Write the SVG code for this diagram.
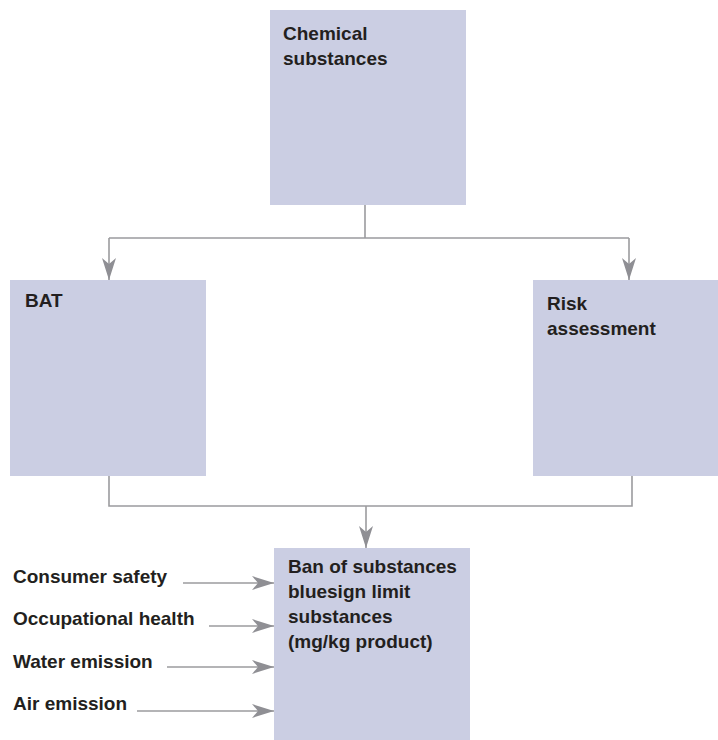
<svg xmlns="http://www.w3.org/2000/svg" width="718" height="740" viewBox="0 0 718 740">
<style>
.box{fill:#cbcee3;}
.t{font-family:"Liberation Sans",Arial,sans-serif;font-weight:700;font-size:19px;fill:#231f20;}
.c{fill:none;stroke:#9b9b9e;stroke-width:1.6;}
</style>
<defs>
<marker id="ah" markerUnits="userSpaceOnUse" markerWidth="24" markerHeight="14" refX="22" refY="7" orient="auto" viewBox="0 0 24 14">
<path d="M0,0 L22,7 L0,14 L6,7 Z" fill="#8f8f94"/>
</marker>
</defs>
<rect width="718" height="740" fill="#ffffff"/>
<g id="chemical">
<rect class="box" x="270" y="10" width="196" height="195"/>
<text class="t" x="283" y="40">Chemical</text>
<text class="t" x="283" y="65">substances</text>
</g>
<g id="bat">
<rect class="box" x="10" y="280" width="196" height="196"/>
<text class="t" x="25" y="307">BAT</text>
</g>
<g id="risk">
<rect class="box" x="533" y="280" width="185" height="196"/>
<text class="t" x="547" y="310">Risk</text>
<text class="t" x="547" y="335">assessment</text>
</g>
<g id="ban">
<rect class="box" x="274" y="548" width="196" height="192"/>
<text class="t" x="288" y="573">Ban of substances</text>
<text class="t" x="288" y="598">bluesign limit</text>
<text class="t" x="288" y="623">substances</text>
<text class="t" x="288" y="648">(mg/kg product)</text>
</g>
<g id="labels">
<text class="t" x="13" y="583">Consumer safety</text>
<text class="t" x="13" y="625">Occupational health</text>
<text class="t" x="13" y="668">Water emission</text>
<text class="t" x="13" y="710">Air emission</text>
</g>
<g id="connectors">
<path class="c" d="M365,205 V238 M109,238 H629"/>
<path class="c" d="M109,238 V280" marker-end="url(#ah)"/>
<path class="c" d="M629,238 V280" marker-end="url(#ah)"/>
<path class="c" d="M109,476 V506 H632 V476"/>
<path class="c" d="M366,506 V548" marker-end="url(#ah)"/>
<path class="c" d="M183,583 H274" marker-end="url(#ah)"/>
<path class="c" d="M209,626 H274" marker-end="url(#ah)"/>
<path class="c" d="M167,667 H274" marker-end="url(#ah)"/>
<path class="c" d="M137,711 H274" marker-end="url(#ah)"/>
</g>
</svg>
